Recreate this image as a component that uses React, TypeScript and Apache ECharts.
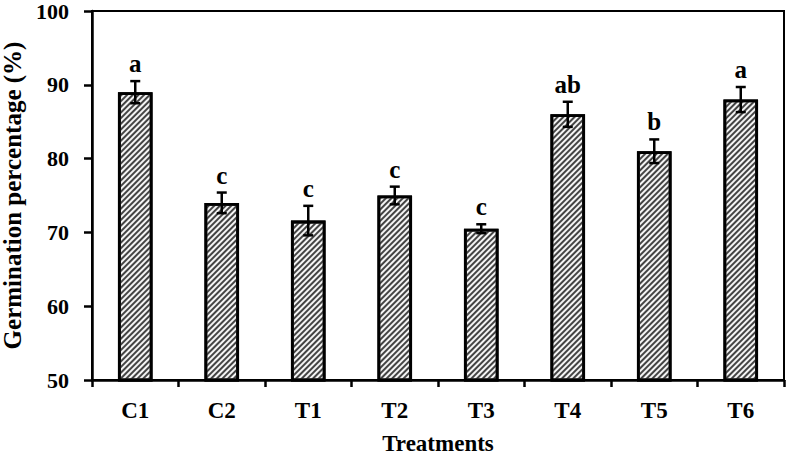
import React, { useEffect, useRef } from "react";
import * as echarts from "echarts";

const categories = ["C1", "C2", "T1", "T2", "T3", "T4", "T5", "T6"];
const meanValues = [89.0, 74.0, 71.6, 75.0, 70.5, 86.0, 81.0, 88.0];
const errorValues = [1.5, 1.4, 2.0, 1.2, 0.6, 1.7, 1.6, 1.7];
const letters = ["a", "c", "c", "c", "c", "ab", "b", "a"];
const yTicks = [50, 60, 70, 80, 90, 100];

const FONT = "'Liberation Serif', 'Times New Roman', serif";

export default function App() {
  const ref = useRef<HTMLDivElement>(null);
  useEffect(() => {
    if (!ref.current) return;
    const chart = echarts.init(ref.current, null, { renderer: "svg" });
    const errData = categories.map((c, i) => [i, meanValues[i], errorValues[i]]);
    chart.setOption({
      animation: false,
      grid: {
        left: 92,
        right: 4,
        top: 11,
        bottom: 77,
        containLabel: false,
        outerBoundsMode: "none",
        show: true,
        borderColor: "#000",
        borderWidth: 2,
      },
      xAxis: {
        type: "category",
        data: categories,
        name: "Treatments",
        nameLocation: "middle",
        nameGap: 52,
        nameTextStyle: { fontFamily: FONT, fontWeight: "bold", fontSize: 23, color: "#000" },
        axisLine: { lineStyle: { color: "#000", width: 2.5 } },
        axisTick: { show: true, length: 7, lineStyle: { color: "#000", width: 2.5 } },
        axisLabel: { fontFamily: FONT, fontWeight: "bold", fontSize: 23, color: "#000", margin: 19 },
      },
      yAxis: {
        type: "value",
        min: yTicks[0],
        max: yTicks[yTicks.length - 1],
        interval: 10,
        name: "Germination percentage (%)",
        nameLocation: "middle",
        nameGap: 62,
        nameTextStyle: { fontFamily: FONT, fontWeight: "bold", fontSize: 25, color: "#000" },
        splitLine: { show: false },
        axisLine: { show: true, lineStyle: { color: "#000", width: 2.5 } },
        axisTick: { show: true, length: 8, lineStyle: { color: "#000", width: 2.5 } },
        axisLabel: { fontFamily: FONT, fontWeight: "bold", fontSize: 22, color: "#000", margin: 23 },
      },
      series: [
        {
          type: "bar",
          data: meanValues,
          barWidth: "40%",
          itemStyle: {
            color: "#f4f4f4",
            borderColor: "#000",
            borderWidth: 2.8,
            decal: {
              symbol: "rect",
              symbolSize: 1,
              color: "#444",
              dashArrayX: [1, 0],
              dashArrayY: [1.2, 1.8],
              rotation: -Math.PI / 4,
            },
          },
          z: 2,
        },
        {
          type: "custom",
          data: errData,
          z: 5,
          renderItem: (params: any, api: any) => {
            const x = api.value(0);
            const m = api.value(1);
            const e = api.value(2);
            const top = api.coord([x, m + e]);
            const bot = api.coord([x, m - e]);
            const cap = 5;
            const st = { stroke: "#000", lineWidth: 2.5 };
            return {
              type: "group",
              children: [
                { type: "line", shape: { x1: top[0], y1: top[1], x2: bot[0], y2: bot[1] }, style: st },
                { type: "line", shape: { x1: top[0] - cap, y1: top[1], x2: top[0] + cap, y2: top[1] }, style: st },
                { type: "line", shape: { x1: bot[0] - cap, y1: bot[1], x2: bot[0] + cap, y2: bot[1] }, style: st },
                {
                  type: "text",
                  x: top[0],
                  y: top[1] - 5,
                  style: {
                    text: letters[params.dataIndex],
                    fontFamily: FONT,
                    fontWeight: "bold",
                    fontSize: 25,
                    fill: "#000",
                    align: "center",
                    verticalAlign: "bottom",
                  },
                },
              ],
            };
          },
        },
      ],
    });
    return () => chart.dispose();
  }, []);
  return (
    <div
      ref={ref}
      style={{ position: "fixed", left: 0, top: 0, width: 788, height: 457, background: "#fff" }}
    />
  );
}
